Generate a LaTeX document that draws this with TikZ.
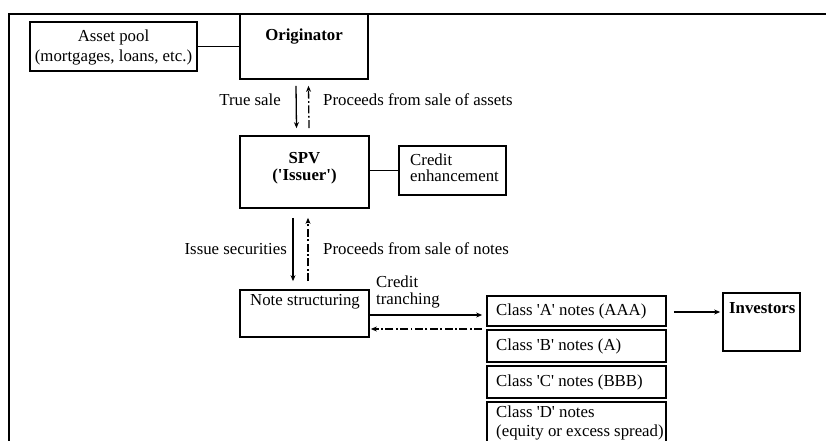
\documentclass[tikz,border=0pt]{standalone}
\usepackage{fontspec}
\setmainfont{Liberation Serif}
\usetikzlibrary{calc,arrows.meta}
\newcommand{\q}{\textquotesingle}

\begin{document}
\begin{tikzpicture}[x=1pt,y=-1pt,
  box/.style={draw, line width=1.7pt, inner sep=0pt, rectangle},
  txt/.style={inner sep=0pt, font=\fontsize{16.8}{20}\selectfont},
  txtb/.style={inner sep=0pt, font=\fontsize{16.8}{17}\selectfont\bfseries},
  flow/.style={line width=1.3pt, -{Stealth[length=6pt,width=5pt]}},
  back/.style={flow, dash pattern=on 8pt off 2.5pt on 1.8pt off 2.5pt},
  link/.style={line width=1.4pt}]

\useasboundingbox (0,0) rectangle (826,441);
\clip (0,0) rectangle (826,441);
\fill[white] (0,0) rectangle (826,441);

% open frame round the whole scheme
\draw[line width=1.7pt] (9,460) -- (9,14) -- (850,14);

% boxes
\node[box, minimum width=167pt, minimum height=49pt] (pool) at (113.5,46.5) {};
\node[box, minimum width=128pt, minimum height=65pt] (orig) at (304,46.5) {};
\node[box, minimum width=129pt, minimum height=72pt] (spv)  at (304.5,172) {};
\node[box, minimum width=107pt, minimum height=49pt] (ce)   at (452.5,170.5) {};
\node[box, minimum width=129pt, minimum height=47pt] (ns)   at (304.5,313.5) {};
\node[box, minimum width=179pt, minimum height=30pt] (ca)   at (576.5,311) {};
\node[box, minimum width=179pt, minimum height=32pt] (cb)   at (576.5,346) {};
\node[box, minimum width=179pt, minimum height=32pt] (cc)   at (576.5,382) {};
\node[box, minimum width=179pt, minimum height=48pt] (cd)   at (576.5,426) {};
\node[box, minimum width=77pt,  minimum height=58pt] (inv)  at (761.5,322) {};

% box texts
\node[txt, align=center] (pool-t) at (113.5,47) {Asset pool\\(mortgages, loans, etc.)};
\node[txtb] (orig-t) at (304,37) {Originator};
\node[txtb, align=center] (spv-t) at (304.5,168) {SPV\\(\q Issuer\q)};
\node[txt, align=left, anchor=west, font=\fontsize{16.8}{16}\selectfont] (ce-t) at (410,168) {Credit\\enhancement};
\node[txt, anchor=west] (ns-t) at (250,302) {Note structuring};
\node[txt, anchor=west] (ca-t) at (496,311) {Class \q A\q{} notes (AAA)};
\node[txt, anchor=west] (cb-t) at (496,346) {Class \q B\q{} notes (A)};
\node[txt, anchor=west] (cc-t) at (496,382) {Class \q C\q{} notes (BBB)};
\node[txt, anchor=west, align=left, font=\fontsize{16.8}{19}\selectfont] (cd-t) at (496,423) {Class \q D\q{} notes\\(equity or excess spread)};
\node[txtb, anchor=west] (inv-t) at (729,308) {Investors};

% plain links
\draw[link] (pool.east) -- (orig.west);
\draw[link] (spv.east |- ce.west) -- (ce.west);

% originator <-> SPV
\draw[flow] ($(orig.south)+(-8,6)$) -- ($(spv.north)+(-8,-7)$);
\draw[back] ($(spv.north)+(4.5,-7)$) -- ($(orig.south)+(4.5,6)$);
\node[txt, anchor=east] (ts) at (281,100) {True sale};
\node[txt, anchor=west] (pa) at (323,100) {Proceeds from sale of assets};

% SPV <-> note structuring
\draw[flow] ($(spv.south)+(-11.5,9)$) -- ($(ns.north)+(-11.5,-8)$);
\draw[back] ($(ns.north)+(3.5,-8)$) -- ($(spv.south)+(3.5,9)$);
\node[txt, anchor=east] (is) at (287,249) {Issue securities};
\node[txt, anchor=west] (pn) at (323,249) {Proceeds from sale of notes};

% note structuring <-> tranches
\draw[flow] ($(ns.east)+(0,1.5)$) -- ($(ca.west |- ns.east)+(-4,1.5)$);
\draw[back] ($(ca.west |- ns.east)+(-4,15.5)$) -- ($(ns.east)+(1,15.5)$);
\node[txt, align=left, anchor=north west, font=\fontsize{16.8}{17}\selectfont] (ct) at (376,276) {Credit\\tranching};

% senior tranche to investors
\draw[flow] ($(ca.east)+(7,1)$) -- ($(inv.west |- ca.east)+(-2,1)$);

\end{tikzpicture}
\end{document}
